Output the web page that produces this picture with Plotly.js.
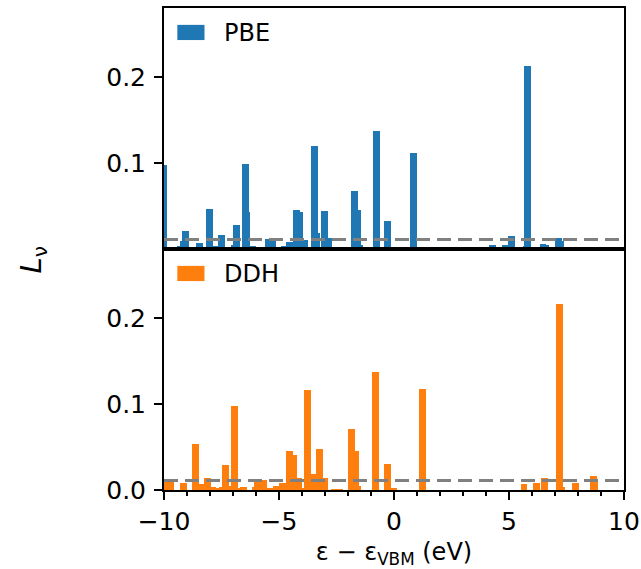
<!DOCTYPE html>
<html>
<head>
<meta charset="utf-8">
<script src="https://cdn.plot.ly/plotly-3.0.1.min.js"></script>
<style>html,body{margin:0;padding:0;background:#fff;}#chart{width:641px;height:569px;}</style>
</head>
<body>
<div id="chart"></div>
<script>
// PBE: state energies (eV, relative to VBM) and localisation L_v
const pbeEnergy = [-10.0,-9.28,-9.17,-9.07,-8.46,-8.02,-7.72,-7.50,-7.20,-6.93,-6.85,-6.46,-6.41,-6.13,-5.59,-5.45,-5.28,-5.20,-4.76,-4.54,-4.24,-4.11,-3.89,-3.80,-3.46,-3.35,-3.02,-2.85,-2.46,-2.24,-1.72,-1.59,-1.50,-0.76,-0.28,-0.02,0.85,4.30,4.85,5.11,5.76,5.80,6.48,6.60,7.15,7.24];
const pbeL = [0.098,0.003,0.009,0.021,0.007,0.047,0.004,0.016,0.002,0.005,0.028,0.099,0.043,0.003,0.002,0.012,0.0095,0.002,0.0035,0.008,0.045,0.043,0.0105,0.002,0.120,0.019,0.044,0.013,0.002,0.002,0.067,0.045,0.005,0.137,0.033,0.002,0.112,0.005,0.005,0.015,0.003,0.213,0.006,0.005,0.013,0.009];
// DDH
const ddhEnergy = [-9.85,-9.70,-9.15,-8.63,-8.40,-8.11,-7.90,-7.74,-7.45,-7.33,-7.22,-6.93,-6.70,-6.54,-6.02,-5.93,-5.67,-5.40,-5.13,-4.85,-4.54,-4.37,-4.15,-4.05,-3.76,-3.52,-3.24,-3.02,-2.59,-2.37,-1.85,-1.67,-1.59,-0.80,-0.28,0.00,1.24,5.65,6.20,6.54,7.20,7.28,7.90,8.67,8.72];
const ddhL = [0.0105,0.010,0.008,0.053,0.007,0.014,0.003,0.0025,0.0035,0.029,0.005,0.098,0.002,0.0035,0.003,0.013,0.012,0.002,0.005,0.008,0.045,0.041,0.014,0.002,0.116,0.0186,0.048,0.014,0.0015,0.0015,0.071,0.045,0.005,0.137,0.030,0.0023,0.117,0.007,0.008,0.014,0.216,0.004,0.008,0.016,0.011];
const threshold = 0.011;
const seriesNames = ['PBE','DDH'];
const seriesColors = ['#1f77b4','#ff7f0e'];
const xTicks = [-10,-5,0,5,10];
const xTickText = ['\u221210','\u22125','0','5','10'];
const xMinorTicks = [-9,-8,-7,-6,-4,-3,-2,-1,1,2,3,4,6,7,8,9];

function sortByHeight(xs, ys){
  const idx = xs.map((_,i)=>i).sort((a,b)=>ys[a]-ys[b]);
  return {x: idx.map(i=>xs[i]), y: idx.map(i=>ys[i])};
}
const p = sortByHeight(pbeEnergy, pbeL);
const d = sortByHeight(ddhEnergy, ddhL);

const FONT = 'DejaVu Sans, sans-serif';
const TICK = 25;
const traces = [
  {type:'bar', x:p.x, y:p.y, width:0.3, name:seriesNames[0], marker:{color:seriesColors[0], line:{width:0}}, xaxis:'x', yaxis:'y', showlegend:false},
  {type:'bar', x:d.x, y:d.y, width:0.3, name:seriesNames[1], marker:{color:seriesColors[1], line:{width:0}}, xaxis:'x2', yaxis:'y2', showlegend:false}
];

const axisCommon = {showgrid:false, zeroline:false, showline:true, mirror:true, linecolor:'#000', linewidth:2,
  ticks:'outside', ticklen:8, tickwidth:2, tickcolor:'#000', ticklabelstandoff:3, tickfont:{family:FONT, size:TICK, color:'#000'}};

const layout = {
  width:641, height:569,
  margin:{l:164, r:17, t:8, b:79},
  paper_bgcolor:'#fff', plot_bgcolor:'#fff',
  barmode:'overlay', bargap:0,
  font:{family:FONT, color:'#000'},
  xaxis: Object.assign({}, axisCommon, {domain:[0,1], anchor:'y', range:[-10,10], matches:'x2', showticklabels:false, ticks:''}),
  yaxis: Object.assign({}, axisCommon, {domain:[0.5,1], anchor:'x', range:[0,0.28], tickvals:[0.1,0.2], ticktext:['0.1','0.2']}),
  xaxis2: Object.assign({}, axisCommon, {domain:[0,1], anchor:'y2', range:[-10,10], tickvals:xTicks, ticktext:xTickText, ticklabelstandoff:0,
    minor:{tickvals:xMinorTicks, ticks:'outside', ticklen:4, tickwidth:1.5, tickcolor:'#000'},
    title:{text:'\u03b5 \u2212 \u03b5<sub>VBM</sub> (eV)', font:{family:FONT, size:24, color:'#000'}, standoff:12}}),
  yaxis2: Object.assign({}, axisCommon, {domain:[0,0.5], anchor:'x2', range:[0,0.28], tickvals:[0,0.1,0.2], ticktext:['0.0','0.1','0.2']}),
  shapes:[
    {type:'line', xref:'x domain', yref:'y', x0:0, x1:1, y0:threshold, y1:threshold, line:{color:'#808080', width:3, dash:'14px,7px'}},
    {type:'line', xref:'x2 domain', yref:'y2', x0:0, x1:1, y0:threshold, y1:threshold, line:{color:'#808080', width:3, dash:'14px,7px'}},
    {type:'rect', xref:'x domain', yref:'y domain', x0:0.029, x1:0.088, y0:0.867, y1:0.93, fillcolor:seriesColors[0], line:{width:0}},
    {type:'rect', xref:'x2 domain', yref:'y2 domain', x0:0.029, x1:0.088, y0:0.867, y1:0.93, fillcolor:seriesColors[1], line:{width:0}}
  ],
  annotations:[
    {xref:'x domain', yref:'y domain', x:0.126, y:0.898, xanchor:'left', yanchor:'middle', text:seriesNames[0], showarrow:false, font:{family:FONT, size:24, color:'#000'}},
    {xref:'x2 domain', yref:'y2 domain', x:0.126, y:0.898, xanchor:'left', yanchor:'middle', text:seriesNames[1], showarrow:false, font:{family:FONT, size:24, color:'#000'}},
    {xref:'paper', yref:'paper', x:-0.285, y:0.478, xanchor:'center', yanchor:'middle', textangle:-90, text:'<i>L</i><sub>\u03bd</sub>', showarrow:false, font:{family:FONT, size:29, color:'#000'}}
  ]
};

Plotly.newPlot('chart', traces, layout, {displayModeBar:false, staticPlot:true});
</script>
</body>
</html>
